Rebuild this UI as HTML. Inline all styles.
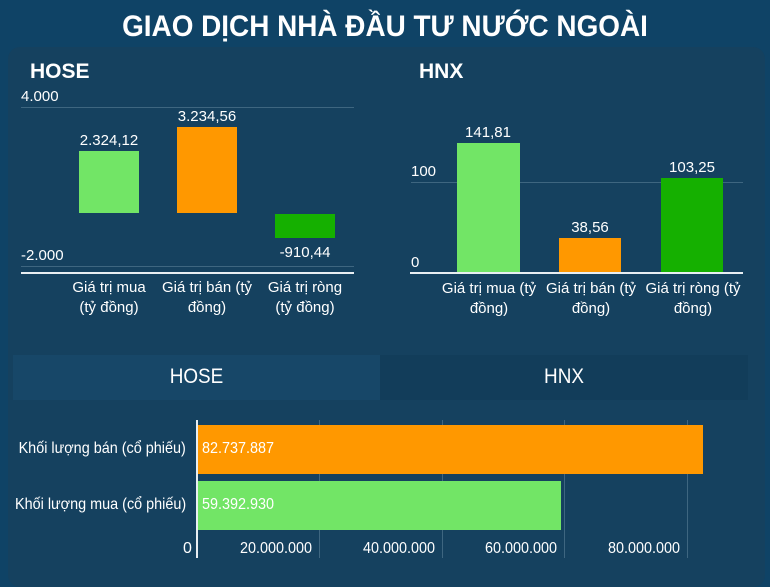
<!DOCTYPE html>
<html><head><meta charset="utf-8"><style>
body{margin:0;width:770px;height:580px;background:#0f4366;overflow:hidden;font-family:"Liberation Sans",sans-serif;color:#fff;position:relative}
.a{position:absolute;white-space:nowrap}
.c{text-align:center}
.n{transform:scaleX(0.9)}
</style></head><body>
<div class="a c" style="left:0;width:770px;top:10px;font-size:30px;font-weight:bold;transform:scaleX(0.93)">GIAO DỊCH NHÀ ĐẦU TƯ NƯỚC NGOÀI</div>
<div class="a" style="left:8px;top:47px;width:757px;height:540px;background:#15415f;border-radius:12px"></div>

<!-- HOSE chart -->
<div class="a" style="left:30px;top:60px;font-size:21px;font-weight:bold">HOSE</div>
<div class="a" style="left:21px;top:88px;font-size:15px">4.000</div>
<div class="a" style="left:21px;top:107px;width:333px;height:1px;background:#3e6680"></div>
<div class="a" style="left:21px;top:247px;font-size:15px">-2.000</div>
<div class="a" style="left:21px;top:266px;width:333px;height:1px;background:#3e6680"></div>
<div class="a" style="left:21px;top:272px;width:333px;height:2px;background:#e8eef2"></div>
<div class="a" style="left:79px;top:151px;width:60px;height:62px;background:#72e566"></div>
<div class="a" style="left:177px;top:127px;width:60px;height:86px;background:#ff9800"></div>
<div class="a" style="left:275px;top:214px;width:60px;height:24px;background:#15b000"></div>
<div class="a c" style="left:59px;width:100px;top:132px;font-size:15px">2.324,12</div>
<div class="a c" style="left:157px;width:100px;top:108px;font-size:15px">3.234,56</div>
<div class="a c" style="left:255px;width:100px;top:244px;font-size:15px">-910,44</div>
<div class="a c" style="left:54px;width:110px;top:278px;font-size:15px;line-height:20px">Giá trị mua<br>(tỷ đồng)</div>
<div class="a c" style="left:152px;width:110px;top:278px;font-size:15px;line-height:20px">Giá trị bán (tỷ<br>đồng)</div>
<div class="a c" style="left:250px;width:110px;top:278px;font-size:15px;line-height:20px">Giá trị ròng<br>(tỷ đồng)</div>

<!-- HNX chart -->
<div class="a" style="left:419px;top:60px;font-size:21px;font-weight:bold">HNX</div>
<div class="a" style="left:411px;top:163px;font-size:15px">100</div>
<div class="a" style="left:411px;top:182px;width:332px;height:1px;background:#3e6680"></div>
<div class="a" style="left:411px;top:254px;font-size:15px">0</div>
<div class="a" style="left:410px;top:272px;width:333px;height:2px;background:#e8eef2"></div>
<div class="a" style="left:457px;top:143px;width:63px;height:129px;background:#72e566"></div>
<div class="a" style="left:559px;top:238px;width:62px;height:34px;background:#ff9800"></div>
<div class="a" style="left:661px;top:178px;width:62px;height:94px;background:#15b000"></div>
<div class="a c" style="left:438px;width:100px;top:124px;font-size:15px">141,81</div>
<div class="a c" style="left:540px;width:100px;top:219px;font-size:15px">38,56</div>
<div class="a c" style="left:642px;width:100px;top:159px;font-size:15px">103,25</div>
<div class="a c" style="left:432px;width:114px;top:279px;font-size:15px;line-height:20px">Giá trị mua (tỷ<br>đồng)</div>
<div class="a c" style="left:534px;width:114px;top:279px;font-size:15px;line-height:20px">Giá trị bán (tỷ<br>đồng)</div>
<div class="a c" style="left:636px;width:114px;top:279px;font-size:15px;line-height:20px">Giá trị ròng (tỷ<br>đồng)</div>

<!-- tabs -->
<div class="a" style="left:13px;top:355px;width:367px;height:45px;background:#174768"></div>
<div class="a" style="left:380px;top:355px;width:368px;height:45px;background:#123d5a"></div>
<div class="a c n" style="left:13px;width:367px;top:365px;font-size:21px">HOSE</div>
<div class="a c n" style="left:380px;width:368px;top:365px;font-size:21px">HNX</div>

<!-- bottom bar chart -->
<div class="a" style="left:319px;top:420px;width:1px;height:138px;background:#3e6680"></div>
<div class="a" style="left:442px;top:420px;width:1px;height:138px;background:#3e6680"></div>
<div class="a" style="left:564px;top:420px;width:1px;height:138px;background:#3e6680"></div>
<div class="a" style="left:687px;top:420px;width:1px;height:138px;background:#3e6680"></div>
<div class="a" style="left:198px;top:425px;width:505px;height:49px;background:#ff9800"></div>
<div class="a" style="left:198px;top:481px;width:363px;height:49px;background:#72e566"></div>
<div class="a" style="left:196px;top:420px;width:2px;height:138px;background:#e8eef2"></div>
<div class="a n" style="left:202px;top:440px;font-size:16px;transform-origin:left">82.737.887</div>
<div class="a n" style="left:202px;top:496px;font-size:16px;transform-origin:left">59.392.930</div>
<div class="a n" style="right:584px;top:440px;font-size:16px;transform-origin:right">Khối lượng bán (cổ phiếu)</div>
<div class="a n" style="right:584px;top:496px;font-size:16px;transform-origin:right">Khối lượng mua (cổ phiếu)</div>
<div class="a" style="left:183px;top:540px;font-size:16px">0</div>
<div class="a c n" style="left:226px;width:100px;top:540px;font-size:16px">20.000.000</div>
<div class="a c n" style="left:349px;width:100px;top:540px;font-size:16px">40.000.000</div>
<div class="a c n" style="left:471px;width:100px;top:540px;font-size:16px">60.000.000</div>
<div class="a c n" style="left:594px;width:100px;top:540px;font-size:16px">80.000.000</div>
</body></html>
